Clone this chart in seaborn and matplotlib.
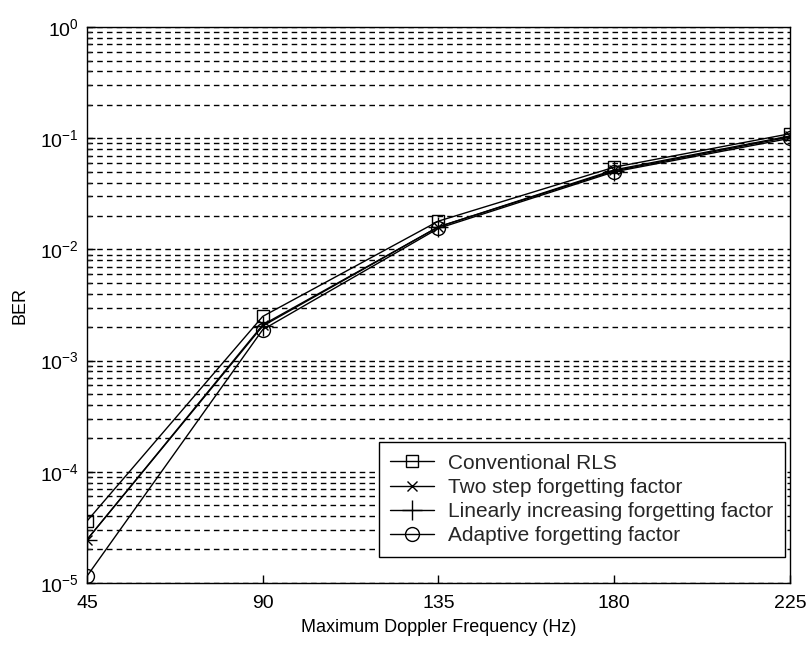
import numpy as np
import pandas as pd
import matplotlib
matplotlib.use("Agg")
import matplotlib.pyplot as plt
import seaborn as sns
from matplotlib.ticker import LogLocator, NullFormatter

doppler = [45, 90, 135, 180, 225]
conventional = [3.6e-5, 2.5e-3, 1.8e-2, 5.5e-2, 0.11]
two_step = [2.45e-5, 2.1e-3, 1.6e-2, 5.2e-2, 0.105]
linear_inc = [2.45e-5, 2.05e-3, 1.6e-2, 5.1e-2, 0.103]
adaptive = [1.15e-5, 1.9e-3, 1.55e-2, 5.0e-2, 0.1]
labels = ["Conventional RLS", "Two step forgetting factor",
          "Linearly increasing forgetting factor", "Adaptive forgetting factor"]

sns.set_theme(style="white")
plt.rcParams['font.family'] = ['Liberation Sans', 'DejaVu Sans']

fig = plt.figure(figsize=(8.09, 6.47), dpi=100)
ax = fig.add_axes([0.1075, 0.099, 0.869, 0.859])

series = [conventional, two_step, linear_inc, adaptive]
markers = ['s', 'x', '+', 'o']
msizes = [9, 7, 14, 10]
for vals, lab, m, ms in zip(series, labels, markers, msizes):
    df = pd.DataFrame({"x": doppler, "y": vals})
    sns.lineplot(data=df, x="x", y="y", ax=ax, color="black", linewidth=1.0,
                 marker=m, markersize=ms, markerfacecolor='none',
                 markeredgecolor='black', markeredgewidth=1.0, label=lab)

ax.set_yscale('log')
ax.set_ylim(1e-5, 1)
ax.set_xlim(45, 225)
ax.set_xticks(doppler)
ax.set_xticklabels([str(v) for v in doppler])
ax.yaxis.set_major_locator(LogLocator(base=10, numticks=10))
ax.yaxis.set_minor_locator(LogLocator(base=10, subs=np.arange(2, 10), numticks=20))
ax.yaxis.set_minor_formatter(NullFormatter())
ax.grid(True, which='both', axis='y', linestyle=(0, (4, 3)), color='black', linewidth=1.0)
ax.grid(False, axis='x')
ax.tick_params(axis='x', which='major', direction='in', length=6, width=1,
               labelsize=14, colors='black', bottom=True, pad=9)
ax.tick_params(axis='y', which='major', direction='in', length=6, width=1,
               labelsize=14, colors='black', left=True, pad=6)
ax.tick_params(axis='y', which='minor', direction='in', length=3, left=True)
for s in ax.spines.values():
    s.set_color('black')
    s.set_linewidth(1.0)
ax.set_xlabel("Maximum Doppler Frequency (Hz)", fontsize=13, color='black', labelpad=5)
ax.set_ylabel("BER", fontsize=13, color='black', labelpad=8)

leg = ax.legend(loc='lower right', bbox_to_anchor=(0.993, 0.047), borderaxespad=0,
                fontsize=15, frameon=True, fancybox=False,
                edgecolor='black', framealpha=1, handlelength=2.1, handletextpad=0.7,
                borderpad=0.55, labelspacing=0.25)
leg.get_frame().set_linewidth(1.0)

fig.savefig("out.png", dpi=100)
